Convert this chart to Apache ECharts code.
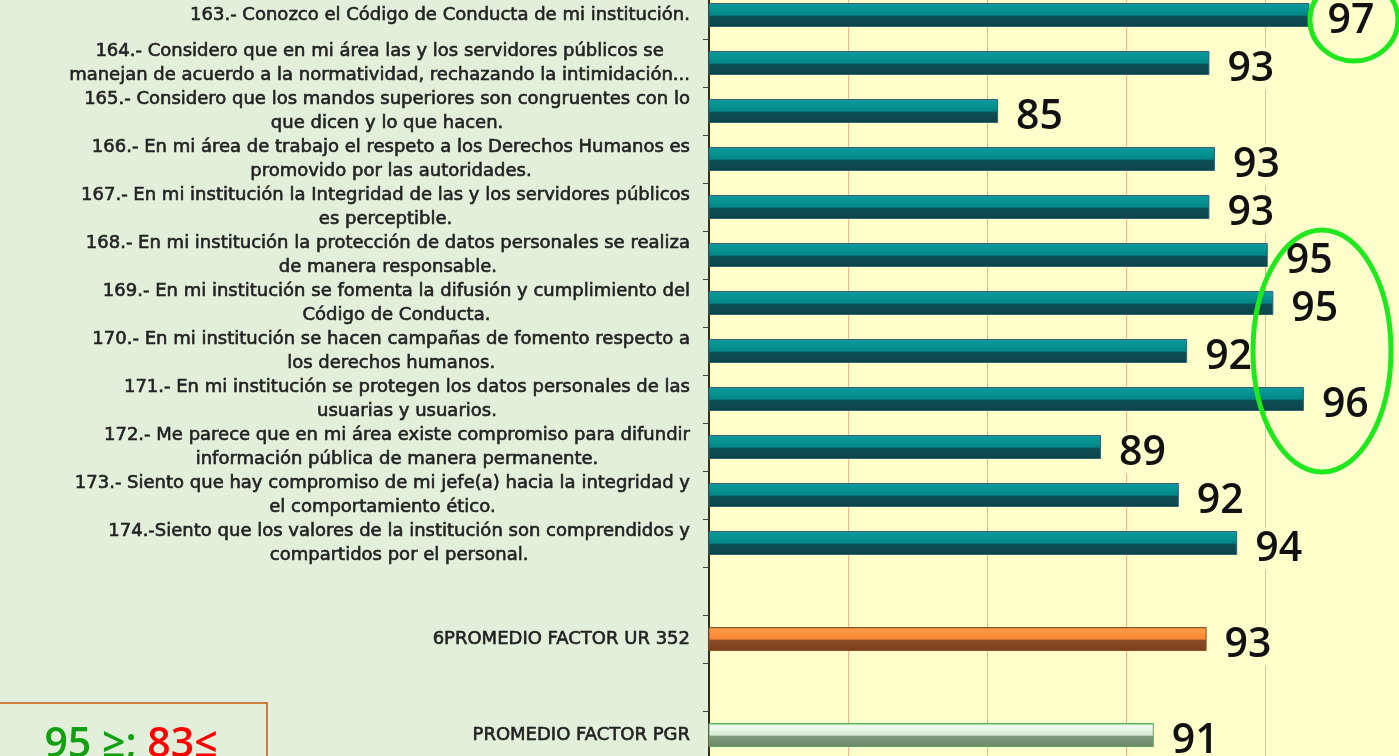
<!DOCTYPE html>
<html>
<head>
<meta charset="utf-8">
<script src="https://cdn.jsdelivr.net/npm/echarts@6/dist/echarts.min.js"></script>
<style>
  html, body { margin: 0; padding: 0; background: #e2efda; }
  #main { width: 1399px; height: 756px; }
</style>
</head>
<body>
<div id="main"></div>
<script>
// preguntas del factor (con saltos de linea como en la lamina)
var preguntas = [
  '163.- Conozco el Código de Conducta de mi institución.',
  '164.- Considero que en mi área las y los servidores públicos se\nmanejan de acuerdo a la normatividad, rechazando la intimidación...',
  '165.- Considero que los mandos superiores son congruentes con lo\nque dicen y lo que hacen.',
  '166.- En mi área de trabajo el respeto a los Derechos Humanos es\npromovido por las autoridades.',
  '167.- En mi institución la Integridad de las y los servidores públicos\nes perceptible.',
  '168.- En mi institución la protección de datos personales se realiza\nde manera responsable.',
  '169.- En mi institución se fomenta la difusión y cumplimiento del\nCódigo de Conducta.',
  '170.- En mi institución se hacen campañas de fomento respecto a\nlos derechos humanos.',
  '171.- En mi institución se protegen los datos personales de las\nusuarias y usuarios.',
  '172.- Me parece que en mi área existe compromiso para difundir\ninformación pública de manera permanente.',
  '173.- Siento que hay compromiso de mi jefe(a) hacia la integridad y\nel comportamiento ético.',
  '174.-Siento que los valores de la institución son comprendidos y\ncompartidos por el personal.'
];
var valores = [96.6, 93.0, 85.4, 93.2, 93.0, 95.1, 95.3, 92.2, 96.4, 89.1, 91.9, 94.0];

var promedios = ['6PROMEDIO FACTOR UR 352', 'PROMEDIO FACTOR PGR'];
var valoresPromedio = [92.9, 91.0];

var ejeMin = 75, ejeMax = 100, ejeIntervalo = 5;

// categorias: preguntas, hueco, promedio UR, hueco, promedio PGR
var categorias = preguntas.concat(['', promedios[0], ' ', promedios[1]]);

function grad(stops) {
  return new echarts.graphic.LinearGradient(0, 0, 0, 1, stops.map(function (s) {
    return { offset: s[0], color: s[1] };
  }));
}
var estiloTeal = {
  color: grad([[0, '#3f8a96'], [0.1, '#0a9a9a'], [0.5, '#008585'], [0.56, '#0d5055'], [1, '#0b4347']]),
  borderColor: '#2f6472', borderWidth: 1
};
var estiloNaranja = {
  color: grad([[0, '#c06a30'], [0.1, '#ff9a45'], [0.5, '#f58635'], [0.56, '#8a4a25'], [1, '#7a3e1e']]),
  borderColor: '#8f5128', borderWidth: 1
};
var estiloVerde = {
  color: grad([[0, '#6cc06c'], [0.12, '#f2fdf2'], [0.5, '#d6ecd6'], [0.56, '#7d9a7d'], [1, '#6a866a']]),
  borderColor: '#5aa85a', borderWidth: 1
};

var datos = valores.map(function (v) { return { value: v, itemStyle: estiloTeal }; });
datos.push('-');
datos.push({ value: valoresPromedio[0], itemStyle: estiloNaranja });
datos.push('-');
datos.push({ value: valoresPromedio[1], itemStyle: estiloVerde });

var chart = echarts.init(document.getElementById('main'));
chart.setOption({
  backgroundColor: '#e2efda',
  animation: false,
  grid: {
    left: 709, top: -9, width: 695, height: 768,
    outerBoundsMode: 'none',
    show: true, backgroundColor: '#ffffcc', borderWidth: 0
  },
  xAxis: {
    type: 'value', min: ejeMin, max: ejeMax, interval: ejeIntervalo,
    axisLabel: { show: false },
    axisLine: { show: false },
    axisTick: { show: false },
    splitLine: { show: true, lineStyle: { color: '#f2b48a', width: 1 } }
  },
  yAxis: {
    type: 'category',
    inverse: true,
    data: categorias,
    axisLine: { show: true, lineStyle: { color: '#3a2a1c', width: 2 } },
    axisTick: { show: true, length: 6, lineStyle: { color: '#404040' } },
    axisLabel: {
      interval: 0,
      margin: 19,
      formatter: function (v) { return v.trim() ? '{c|' + v + '}' : ''; },
      rich: {
        c: {
          align: 'center',
          fontFamily: 'DejaVu Sans',
          fontSize: 18,
          lineHeight: 24,
          color: '#222222',
          textBorderColor: '#222222',
          textBorderWidth: 0.6
        }
      }
    }
  },
  series: [{
    type: 'bar',
    barWidth: 24,
    data: datos,
    label: {
      show: true,
      position: 'right',
      distance: 15,
      offset: [0, 6],
      formatter: function (p) { return Math.round(p.value); },
      fontFamily: 'Open Sans',
      fontWeight: 600,
      fontSize: 41,
      color: '#111111',
      backgroundColor: '#ffffcc',
      padding: [0, 3]
    }
  }]
});

// anotaciones: elipses verdes y recuadro del criterio
var e1 = chart.convertToPixel({ gridIndex: 0 }, [98.2, 0]);
var e2 = chart.convertToPixel({ gridIndex: 0 }, [97.05, 6.5]);
chart.setOption({
  graphic: [
    {
      type: 'ellipse',
      shape: { cx: e1[0], cy: e1[1] + 5, rx: 44, ry: 41 },
      style: { fill: null, stroke: '#1fe81f', lineWidth: 5 },
      z: 100
    },
    {
      type: 'ellipse',
      shape: { cx: e2[0], cy: e2[1], rx: 69, ry: 121 },
      style: { fill: null, stroke: '#1fe81f', lineWidth: 5 },
      z: 100
    },
    {
      type: 'rect',
      shape: { x: -2, y: 703, width: 269, height: 70 },
      style: { fill: '#e2efda', stroke: '#c55a11', lineWidth: 1.5 },
      z: 100
    },
    {
      type: 'text',
      x: 131, y: 725,
      style: {
        text: '{g|95 ≥; }{r|83≤}',
        align: 'center',
        verticalAlign: 'top',
        rich: {
          g: { fontFamily: 'Open Sans', fontWeight: 600, fontSize: 41, fill: '#12a012' },
          r: { fontFamily: 'Open Sans', fontWeight: 600, fontSize: 41, fill: '#ff0000' }
        }
      },
      z: 101
    }
  ]
});
</script>
</body>
</html>
